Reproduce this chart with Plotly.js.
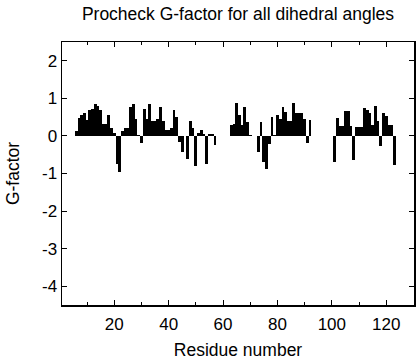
<!DOCTYPE html>
<html>
<head>
<meta charset="utf-8">
<script src="https://cdn.plot.ly/plotly-3.0.1.min.js"></script>
<style>
  html, body { margin: 0; padding: 0; background: #ffffff; }
  #chart { width: 416px; height: 360px; }
</style>
</head>
<body>
<div id="chart"></div>
<script>
// Residue numbers and their Procheck G-factor values
const residues = [
  6, 7, 8, 9, 10, 11, 12, 13, 14, 15, 16, 17, 18, 19, 20, 21, 22, 23, 24, 25,
  26, 27, 28, 29, 30, 31, 32, 33, 34, 35, 36, 37, 38, 39, 40, 41, 42, 43, 44, 45,
  46, 47, 48, 49, 50, 51, 52, 53, 54, 55, 56, 57,
  63, 64, 65, 66, 67, 68, 69, 70,
  73, 74, 75, 76, 77, 78, 79, 80, 81, 82, 83, 84, 85, 86, 87, 88, 89, 90, 91, 92,
  101, 102, 103, 104, 105, 106, 107, 108, 109, 110, 111, 112, 113, 114, 115, 116,
  117, 118, 119, 120, 121, 122, 123
];
const gFactor = [
  0.12, 0.49, 0.56, 0.60, 0.42, 0.70, 0.72, 0.86, 0.80, 0.70, 0.33, 0.33, 0.55, 0.20, 0.08, -0.75, -0.97, 0.12, 0.20, 0.20,
  0.78, 0.85, 0.45, 0.03, -0.20, 0.72, 0.46, 0.84, 0.40, 0.40, 0.46, 0.78, 0.40, 0.15, 0.15, 0.22, 0.70, 0.50, -0.16, -0.42,
  0.00, -0.62, 0.40, 0.20, -0.80, 0.08, 0.15, 0.05, -0.75, 0.05, 0.05, -0.25,
  0.28, 0.33, 0.87, 0.55, 0.28, 0.77, 0.37, 0.02,
  -0.42, 0.37, -0.69, -0.89, -0.22, 0.50, 0.03, 0.57, 0.46, 0.78, 0.63, 0.40, 0.40, 0.87, 0.62, 0.62, 0.60, 0.45, -0.18, 0.42,
  -0.69, 0.49, 0.27, 0.27, 0.67, 0.67, 0.27, -0.65, 0.25, 0.25, 0.25, 0.74, 0.68, 0.62, 0.28, 0.80,
  0.41, -0.27, 0.60, 0.53, 0.28, 0.28, -0.77
];
const xTickVals = [20, 40, 60, 80, 100, 120];
const xTickText = ['20', '40', '60', '80', '100', '120'];
const yTickVals = [-4, -3, -2, -1, 0, 1, 2];
const yTickText = ['-4', '-3', '-2', '-1', '0', '1', '2'];

const FONT = '"Liberation Sans", Arial, Helvetica, sans-serif';

const trace = {
  type: 'bar',
  x: residues,
  y: gFactor,
  width: 1,
  marker: { color: '#000000', line: { width: 0 } },
  hoverinfo: 'x+y'
};

const layout = {
  width: 416,
  height: 360,
  margin: { l: 62, r: 2, t: 42, b: 55 },
  paper_bgcolor: '#ffffff',
  plot_bgcolor: '#ffffff',
  showlegend: false,
  bargap: 0,
  font: { family: FONT, color: '#000000', size: 17 },
  title: {
    text: 'Procheck G-factor for all dihedral angles',
    font: { family: FONT, size: 17.5, color: '#000000' },
    x: 0.5, xref: 'paper', xanchor: 'center',
    y: 1 - 14 / 360, yref: 'container', yanchor: 'middle'
  },
  xaxis: {
    range: [0.8, 130.2],
    tickmode: 'array',
    tickvals: xTickVals,
    ticktext: xTickText,
    ticks: 'inside',
    ticklen: 5,
    tickwidth: 1,
    tickcolor: '#000000',
    ticklabelstandoff: 3,
    minor: { tickmode: 'linear', tick0: 0, dtick: 10, ticks: 'inside', ticklen: 3, tickcolor: '#000000', showgrid: false },
    showline: true,
    linecolor: '#000000',
    linewidth: 1.5,
    mirror: 'allticks',
    showgrid: false,
    zeroline: false,
    tickfont: { family: FONT, size: 17, color: '#000000' },
    title: { text: 'Residue number', font: { family: FONT, size: 17.5, color: '#000000' }, standoff: 11 }
  },
  yaxis: {
    range: [-4.5, 2.5],
    tickmode: 'array',
    tickvals: yTickVals,
    ticktext: yTickText,
    ticks: 'inside',
    ticklen: 5,
    tickwidth: 1,
    tickcolor: '#000000',
    showline: true,
    linecolor: '#000000',
    linewidth: 1.5,
    mirror: 'allticks',
    showgrid: false,
    zeroline: false,
    tickfont: { family: FONT, size: 17, color: '#000000' },
    title: { text: 'G-factor', font: { family: FONT, size: 17.5, color: '#000000' }, standoff: 18 }
  }
};

Plotly.newPlot('chart', [trace], layout, { displayModeBar: false, staticPlot: true });
</script>
</body>
</html>
